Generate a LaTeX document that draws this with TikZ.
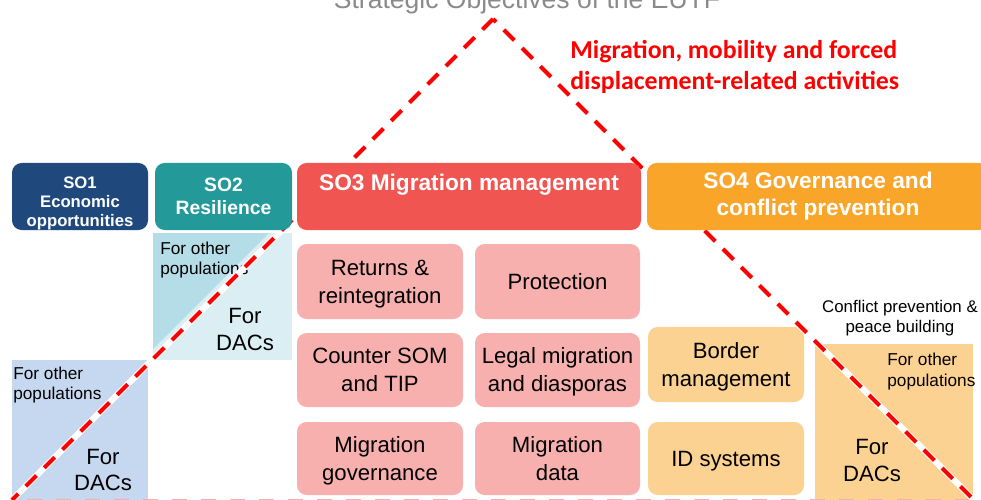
\documentclass[tikz,border=0pt]{standalone}
\usepackage{fontspec}
\setmainfont{Liberation Sans}
\newfontfamily\carlito{Carlito}
\definecolor{soone}{HTML}{1F497D}
\definecolor{sotwo}{HTML}{24999A}
\definecolor{sothree}{HTML}{F05552}
\definecolor{sofour}{HTML}{F9A52A}
\definecolor{actpink}{HTML}{F8B0AE}
\definecolor{actorange}{HTML}{FCD293}
\definecolor{popblue}{HTML}{C6D8F0}
\definecolor{poplight}{HTML}{DAEEF3}
\definecolor{popdark}{HTML}{B5DDE8}
\definecolor{titlegray}{HTML}{8A8A8A}
\definecolor{basepink}{HTML}{F6AEAD}
\begin{document}
\begin{tikzpicture}[x=0.02cm,y=-0.02cm,
  box/.style 2 args={anchor=north west, inner sep=0pt, outer sep=0pt,
    minimum width=#1*0.02cm, minimum height=#2*0.02cm},
  hdr/.style={rounded corners=5.5pt, text=white, align=center,
    font=\bfseries\fontsize{12.9}{15.3}\selectfont},
  act/.style={rounded corners=5.5pt},
  acttxt/.style={inner sep=0pt, align=center, yshift=-1.35pt,
    font=\fontsize{12.6}{15.9}\selectfont},
  pop/.style={inner sep=0pt, align=left, font=\fontsize{9.8}{11.6}\selectfont},
  dacs/.style={inner sep=0pt, align=center, font=\fontsize{12.6}{15.3}\selectfont},
  redline/.style={red, line width=2.3pt, dash pattern=on 8.5pt off 6.2pt},
  whiteline/.style={white, line width=3.6pt}
]
\useasboundingbox (0,0) rectangle (981,500);

% population boxes
\node[box={136}{150}, fill=popblue] (pop1) at (12,360) {};
\node[box={139}{127}, fill=poplight] (pop2) at (153,233) {};
\fill[popdark] (pop2.north west) -- (269,233) -- (153,349) -- cycle;
\node[box={158}{160}, fill=actorange] (pop4) at (815,344) {};

% SO3 activity boxes
\node[box={166}{75}, act, fill=actpink] (ret) at (297,244) {};
\node[box={165}{75}, act, fill=actpink] (prot) at (475,244) {};
\node[box={166}{74}, act, fill=actpink] (som) at (297,333) {};
\node[box={165}{74}, act, fill=actpink] (legal) at (475,333) {};
\node[box={166}{73}, act, fill=actpink] (gov) at (297,422) {};
\node[box={165}{73}, act, fill=actpink] (data) at (475,422) {};
\node[acttxt] (rett) at (ret.center) {\strut Returns \&\\\strut reintegration};
\node[acttxt] (prott) at (prot.center) {\strut Protection};
\node[acttxt] (somt) at (som.center) {\strut Counter SOM\\\strut and TIP};
\node[acttxt] (legalt) at (legal.center) {\strut Legal migration\\\strut and diasporas};
\node[acttxt] (govt) at (gov.center) {\strut Migration\\\strut governance};
\node[acttxt] (datat) at (data.center) {\strut Migration\\\strut data};

% SO4 activity boxes
\node[box={156}{75}, act, fill=actorange] (border) at (648,327) {};
\node[box={156}{73}, act, fill=actorange] (idsys) at (648,422) {};
\node[acttxt] (bordert) at (border.center) {\strut Border\\\strut management};
\node[acttxt] (idsyst) at (idsys.center) {\strut ID systems};

% population texts
\node[pop, anchor=west] (oth1) at (13,385) {For other\\populations};
\node[dacs] (dac1) at (103,470) {For\\DACs};
\node[pop, anchor=west] (oth2) at (160,260) {For other\\populations};
\node[dacs] (dac2) at (245,329.5) {For\\DACs};
\node[pop, anchor=west] (oth4) at (887,371.5) {For other\\populations};
\node[dacs] (dac4) at (872,460.5) {For\\DACs};
\node[inner sep=0pt, align=center, font=\fontsize{9.6}{11.3}\selectfont] (cpb) at (900,318)
  {Conflict prevention \&\\peace building};

% base dashed line
\coordinate (bl) at (27,501);
\coordinate (br) at (990,501);
\draw[basepink, line width=2.3pt, dash pattern=on 8.5pt off 8pt] (bl) -- (br);

% triangle
\coordinate (tl) at (12,500);
\coordinate (apex) at (493,19);
\coordinate (tr) at (974,500);
\draw[whiteline] (tl) -- (apex) -- (tr);
\draw[redline] (apex) -- (tl);
\draw[redline, dash phase=6pt] (apex) -- (tr);

% headers
\node[box={136}{67}, hdr, fill=soone] (so1) at (12,163) {};
\node[text=white, inner sep=0pt, align=center,
  font=\bfseries\fontsize{9.5}{10.8}\selectfont] (so1t) at (80,203)
  {SO1\\Economic\\opportunities};
\node[box={137}{67}, hdr, fill=sotwo, font=\bfseries\fontsize{11}{13}\selectfont] (so2) at (155,163)
  {SO2\\Resilience};
\node[box={344}{67}, hdr, fill=sothree] (so3) at (297,163) {};
\node[text=white, inner sep=0pt, font=\bfseries\fontsize{12.9}{15.3}\selectfont] (so3t) at (469,185)
  {SO3 Migration management};
\node[box={342}{67}, hdr, fill=sofour] (so4) at (647,163) {SO4 Governance and\\conflict prevention};

% red label
\node[anchor=west, inner sep=0pt, align=left, text=red,
  font=\carlito\bfseries\fontsize{14.7}{17.3}\selectfont] (mig) at (570,67)
  {Migration, mobility and forced\\displacement-related activities};

% title
\node[anchor=base, inner sep=0pt, text=titlegray, font=\fontsize{15.1}{18}\selectfont] (title) at (527,9)
  {Strategic Objectives of the EUTF};
\end{tikzpicture}
\end{document}
